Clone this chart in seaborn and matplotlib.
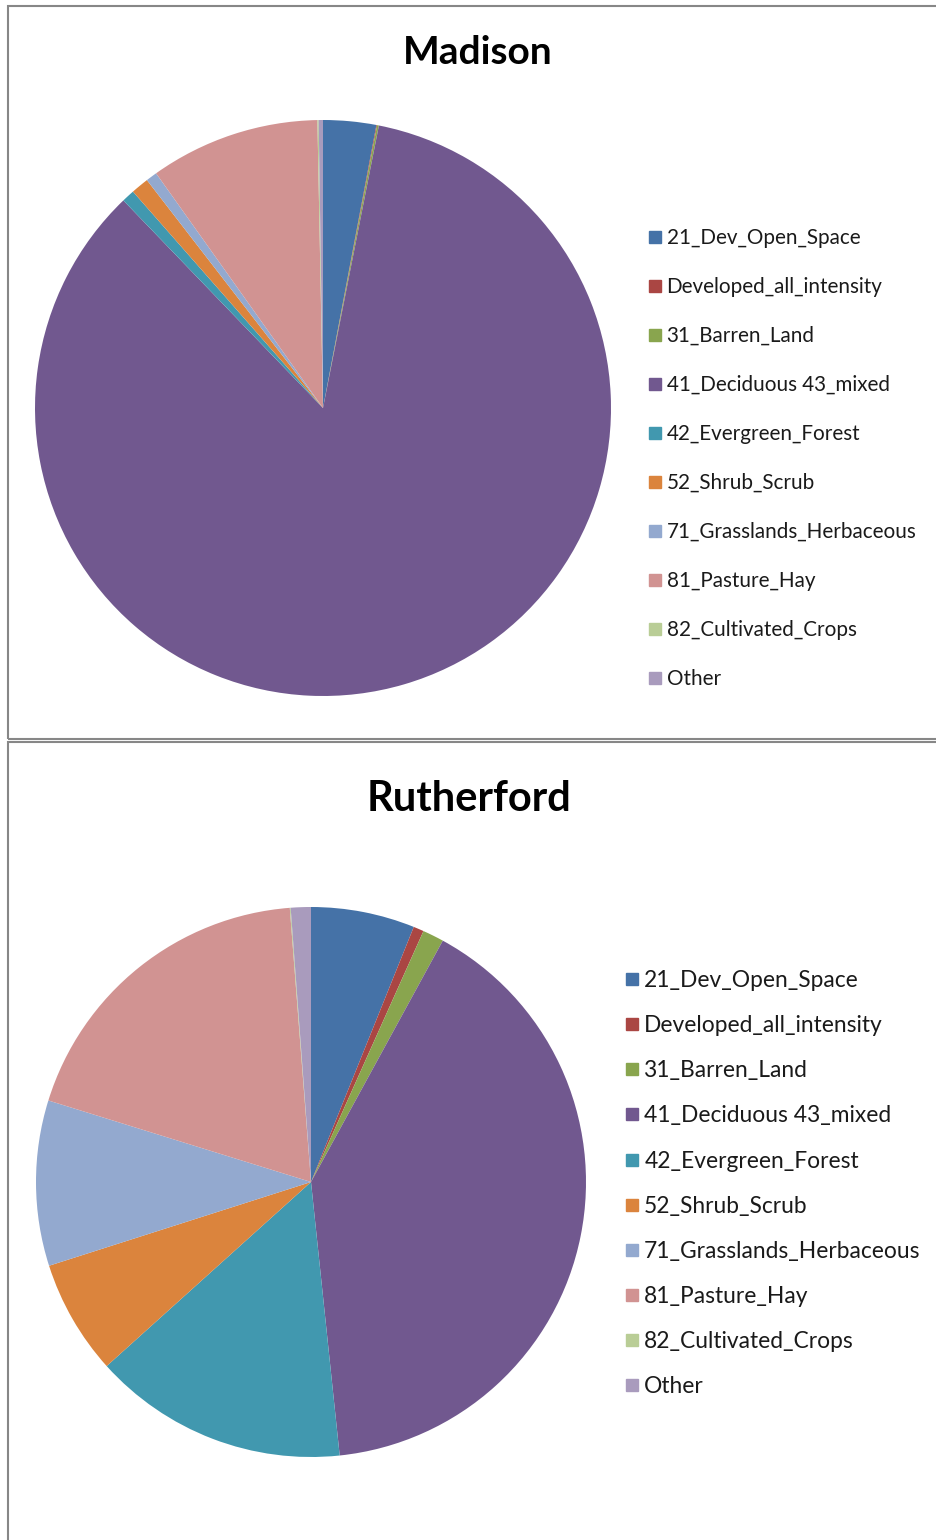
import matplotlib
matplotlib.use("Agg")
import matplotlib.pyplot as plt
import matplotlib.patches as mpatches
from matplotlib.lines import Line2D
import seaborn as sns

sns.set_theme(style="white")
plt.rcParams['font.family'] = ['Lato', 'DejaVu Sans']

# ---------------- data ----------------
categories = ["21_Dev_Open_Space", "Developed_all_intensity", "31_Barren_Land",
              "41_Deciduous 43_mixed", "42_Evergreen_Forest", "52_Shrub_Scrub",
              "71_Grasslands_Herbaceous", "81_Pasture_Hay", "82_Cultivated_Crops", "Other"]
madison_values = [2.97, 0.04, 0.10, 84.70, 0.72, 1.00, 0.63, 9.53, 0.07, 0.24]
rutherford_values = [6.10, 0.61, 1.25, 40.40, 15.00, 6.75, 9.72, 18.99, 0.05, 1.18]
titles = ["Madison", "Rutherford"]
colors = sns.color_palette(["#4572A7", "#AA4643", "#89A54E", "#71588F", "#4198AF",
                            "#DB843D", "#93A9CF", "#D19392", "#B9CD96", "#A99BBD"])

W, H = 937, 1540
fig = plt.figure(figsize=(W / 100, H / 100), dpi=100)
fig.patch.set_facecolor("white")

def fx(px):
    return px / W

def fy(py):
    return 1 - py / H

# panel borders
border = "#878787"
fig.add_artist(mpatches.Rectangle((fx(8.5), fy(739)), fx(940 - 8.5), (739 - 5.5) / H,
                                  transform=fig.transFigure, fill=False,
                                  edgecolor=border, lw=1.5))
fig.add_artist(mpatches.Rectangle((fx(8.5), fy(1545)), fx(940 - 8.5), (1545 - 741.5) / H,
                                  transform=fig.transFigure, fill=False,
                                  edgecolor=border, lw=1.5))

panels = [
    dict(values=madison_values, cx=323, cy=408, r=288, title_xy=(478, 52), title_size=28,
         leg_xy=(650, 228), leg_size=14.9, spacing=1.40, msize=8.0),
    dict(values=rutherford_values, cx=311, cy=1182, r=275, title_xy=(469, 799), title_size=30,
         leg_xy=(626, 970), leg_size=16.4, spacing=1.06, msize=8.3),
]

for title, p in zip(titles, panels):
    ax = fig.add_axes([fx(p["cx"] - p["r"]), fy(p["cy"] + p["r"]),
                       2 * p["r"] / W, 2 * p["r"] / H])
    ax.pie(p["values"], colors=colors, startangle=90, counterclock=False,
           radius=1, wedgeprops=dict(linewidth=0))
    ax.set_xlim(-1, 1)
    ax.set_ylim(-1, 1)
    ax.set_aspect("equal")
    ax.axis("off")
    fig.text(fx(p["title_xy"][0]), fy(p["title_xy"][1]), title, ha="center", va="center",
             fontsize=p["title_size"], fontweight="bold", color="black")
    handles = [Line2D([0], [0], marker="s", linestyle="none", markersize=p["msize"],
                      markerfacecolor=c, markeredgecolor=c) for c in colors]
    fig.legend(handles, categories, loc="upper left",
               bbox_to_anchor=(fx(p["leg_xy"][0]), fy(p["leg_xy"][1])),
               frameon=False, fontsize=p["leg_size"], handlelength=0.5,
               handletextpad=0.3, labelspacing=p["spacing"], borderpad=0,
               borderaxespad=0, labelcolor="#1a1a1a")

fig.savefig("out.png", dpi=100, facecolor="white")
